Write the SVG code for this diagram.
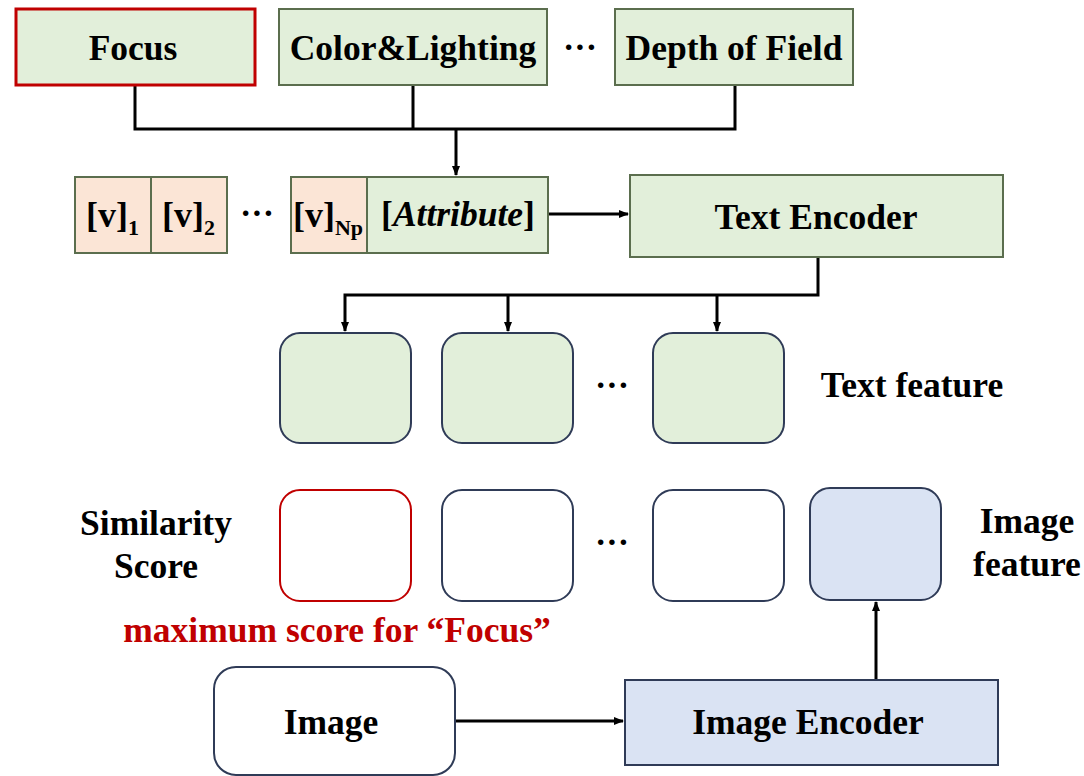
<svg xmlns="http://www.w3.org/2000/svg" width="1084" height="776" viewBox="0 0 1084 776">
<defs>
<marker id="arr" markerWidth="10" markerHeight="10" refX="9" refY="5" orient="auto" markerUnits="userSpaceOnUse">
<path d="M0,1 L10,5 L0,9 z" fill="#000"/>
</marker>
<style>
text{font-family:'Liberation Serif','DejaVu Serif',serif;font-weight:bold;fill:#000;}
.lbl{font-size:35.5px;text-anchor:middle;}
.sub{font-size:22px;}
.g{fill:#E2EFDA;stroke:#5B6E4E;stroke-width:2;}
.p{fill:#FBE5D6;stroke:#5B6E4E;stroke-width:2;}
.red{fill:#E2EFDA;stroke:#C00000;stroke-width:3;}
.rg{fill:#E2EFDA;stroke:#2F3B57;stroke-width:2;}
.rw{fill:#FFFFFF;stroke:#2F3B57;stroke-width:2;}
.rr{fill:#FFFFFF;stroke:#C00000;stroke-width:2;}
.rb{fill:#DAE3F3;stroke:#2F3B57;stroke-width:2;}
.ln{fill:none;stroke:#000;stroke-width:3;}
.dots{font-size:34px;text-anchor:middle;}
</style>
</defs>
<rect width="1084" height="776" fill="#fff"/>

<g id="connectors">
<path class="ln" d="M135,85 V129 H735 V85 M413,85 V129"/>
<path class="ln" d="M456,129 V175" marker-end="url(#arr)"/>
<path class="ln" d="M549,214 H628" marker-end="url(#arr)"/>
<path class="ln" d="M818,257 V295 H345 V331" marker-end="url(#arr)"/>
<path class="ln" d="M508,295 V331" marker-end="url(#arr)"/>
<path class="ln" d="M717,295 V331" marker-end="url(#arr)"/>
<path class="ln" d="M455,721 H623" marker-end="url(#arr)"/>
<path class="ln" d="M876,680 V602" marker-end="url(#arr)"/>
</g>

<g id="focus"><rect class="red" x="16" y="9" width="239" height="76"/><text class="lbl" x="133" y="60">Focus</text></g>
<g id="color-lighting"><rect class="g" x="279" y="9" width="268" height="76"/><text class="lbl" x="413" y="60">Color&amp;Lighting</text></g>
<g id="dots-top"><text class="dots" x="580" y="58">···</text></g>
<g id="depth-of-field"><rect class="g" x="615" y="9" width="238" height="76"/><text class="lbl" x="734" y="60">Depth of Field</text></g>

<g id="v1"><rect class="p" x="75" y="177" width="76" height="76"/><text x="86" y="227" font-size="36">[v]<tspan class="sub" dy="8">1</tspan></text></g>
<g id="v2"><rect class="p" x="151" y="177" width="76" height="76"/><text x="162" y="227" font-size="36">[v]<tspan class="sub" dy="8">2</tspan></text></g>
<g id="dots-mid"><text class="dots" x="257" y="224">···</text></g>
<g id="vnp"><rect class="p" x="291" y="177" width="76" height="76"/><text x="293" y="227" font-size="36">[v]<tspan class="sub" dy="8">Np</tspan></text></g>
<g id="attribute"><rect class="g" x="367" y="177" width="181" height="76"/><text class="lbl" x="458" y="226">[<tspan font-style="italic">Attribute</tspan>]</text></g>

<g id="text-encoder"><rect class="g" x="630" y="175" width="373" height="82"/><text class="lbl" x="816" y="229">Text Encoder</text></g>

<g id="tf1"><rect class="rg" x="280" y="333" width="131" height="110" rx="20"/></g>
<g id="tf2"><rect class="rg" x="442" y="333" width="131" height="110" rx="20"/></g>
<g id="dots-tf"><text class="dots" x="612" y="396">···</text></g>
<g id="tf3"><rect class="rg" x="653" y="333" width="131" height="110" rx="20"/></g>
<g id="text-feature-label"><text class="lbl" x="912" y="397">Text feature</text></g>

<g id="similarity-label"><text class="lbl" x="156" y="535">Similarity</text><text class="lbl" x="156" y="578">Score</text></g>
<g id="s1"><rect class="rr" x="280" y="490" width="131" height="111" rx="20"/></g>
<g id="s2"><rect class="rw" x="442" y="490" width="131" height="111" rx="20"/></g>
<g id="dots-s"><text class="dots" x="612" y="553">···</text></g>
<g id="s3"><rect class="rw" x="653" y="490" width="131" height="111" rx="20"/></g>
<g id="image-feature"><rect class="rb" x="810" y="488" width="131" height="112" rx="20"/></g>
<g id="image-feature-label"><text class="lbl" x="1027" y="533">Image</text><text class="lbl" x="1027" y="576">feature</text></g>
<g id="max-label"><text class="lbl" x="337" y="642" style="fill:#C00000">maximum score for “Focus”</text></g>

<g id="image"><rect class="rw" x="214" y="667" width="241" height="108" rx="22"/><text class="lbl" x="331" y="734">Image</text></g>
<g id="image-encoder"><rect class="rb" x="625" y="680" width="373" height="85"/><text class="lbl" x="808" y="734">Image Encoder</text></g>
</svg>
